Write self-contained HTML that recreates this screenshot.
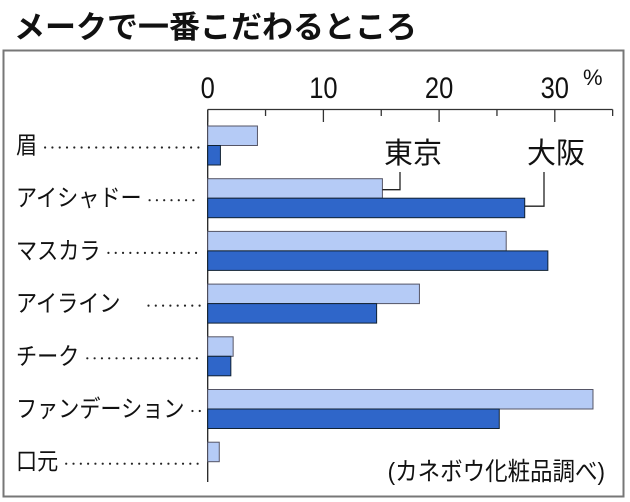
<!DOCTYPE html>
<html><head><meta charset="utf-8"><style>
body{margin:0;background:#fff;}
svg{display:block;font-family:"Liberation Sans","Noto Sans CJK JP",sans-serif;}
</style></head><body>
<svg id="c" width="630" height="502" viewBox="0 0 630 502">
<text x="14" y="38" font-size="31" font-weight="bold" fill="#111">メークで一番こだわるところ</text>
<rect x="3.5" y="50.5" width="620" height="446" fill="none" stroke="#777" stroke-width="2"/>
<g id="g"></g>
</svg>
<script>
const categories=["眉","アイシャドー","マスカラ","アイライン","チーク","ファンデーション","口元"];
const tokyo=[4.3,15.1,25.8,18.3,2.2,33.3,1.0];
const osaka=[1.1,27.4,29.4,14.6,2.0,25.2,0];
const tickLabels=["0","10","20","30"];
const tickValues=[0,10,20,30];
const minorTicks=[5,15,25,35];
const NS="http://www.w3.org/2000/svg";
const g=document.getElementById('g');
const x0=207.7, pxPer=11.57, top0=126, pitch=52.7, bh=19.5;
const xs=v=>x0+v*pxPer;
function mk(t,a,p){const e=document.createElementNS(NS,t);for(const k in a)e.setAttribute(k,a[k]);(p||g).appendChild(e);return e;}
// axis
let ax=mk('line',{x1:x0,y1:109.5,x2:xs(35),y2:109.5,stroke:'#333','stroke-width':1.3});


let ay=mk('line',{x1:x0,y1:109.5,x2:x0,y2:482,stroke:'#222','stroke-width':1.3});


tickValues.forEach((v,i)=>{
 let t=mk('line',{x1:xs(v),y1:109.5,x2:xs(v),y2:122,stroke:'#333','stroke-width':1.3});
 
 
 let l=mk('text',{x:xs(v),y:98,'font-size':30,'text-anchor':'middle',fill:'#111',transform:`translate(${xs(v)} 0) scale(0.85 1) translate(${-xs(v)} 0)`});
 l.textContent=tickLabels[i];
 
 
});
minorTicks.forEach(v=>{
 let t=mk('line',{x1:xs(v),y1:109.5,x2:xs(v),y2:116,stroke:'#333','stroke-width':1.3});
 
 
});
let pc=mk('text',{x:583,y:85,'font-size':22,fill:'#111'});pc.textContent='%';


categories.forEach((c,i)=>{
 const y=top0+i*pitch;
 let b1=mk('rect',{x:x0,y:y,width:tokyo[i]*pxPer,height:bh,fill:'#b5cbf6',stroke:'#556',"stroke-width":1});
 
 
 if(osaka[i]>0){
 let b2=mk('rect',{x:x0,y:y+bh,width:osaka[i]*pxPer,height:bh,fill:'#2f66c9',stroke:'#123',"stroke-width":1});
 
 }
 let l=mk('text',{x:16,y:y+bh+8,'font-size':24,fill:'#111',transform:`translate(16 0) scale(0.88 1) translate(-16 0)`});
 l.textContent=c;
 
 
 const w=l.getComputedTextLength()*0.88+16;
 const start=w+8+(c==="アイライン"?20:0);
 if(start<196){
  let d=mk('line',{x1:start,y1:y+bh+2,x2:200,y2:y+bh+2,stroke:'#222','stroke-width':2.2,'stroke-dasharray':'0 7.3','stroke-linecap':'round'});
  
  
 }
});
// annotations
const y1=top0+pitch;
let tk=mk('text',{x:384,y:163,'font-size':29,fill:'#111'});tk.textContent='東京';


let os=mk('text',{x:527,y:163,'font-size':29,fill:'#111'});os.textContent='大阪';


let p1=mk('polyline',{points:`400,172 400,${y1+11} ${xs(tokyo[1])},${y1+11}`,fill:'none',stroke:'#222','stroke-width':1.3});


let p2=mk('polyline',{points:`544,172 544,${y1+bh+8} ${xs(osaka[1])},${y1+bh+8}`,fill:'none',stroke:'#222','stroke-width':1.3});


let src=mk('text',{x:605,y:480,'font-size':25,'text-anchor':'end',fill:'#111',transform:'translate(605 0) scale(0.9 1) translate(-605 0)'});
src.textContent='(カネボウ化粧品調べ)';


</script>
</body></html>
